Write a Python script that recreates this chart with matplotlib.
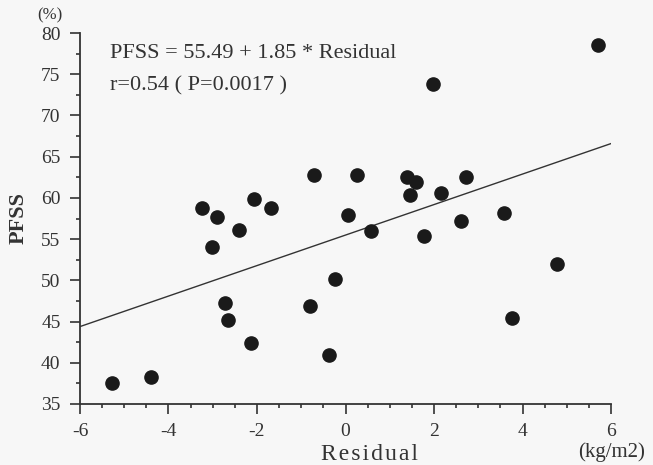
"""
    PFSS 与 Residual 散点图 + 回归直线
"""

import matplotlib
matplotlib.use("Agg")
import matplotlib.pyplot as plt
from matplotlib.ticker import MultipleLocator

# 数据
residual = [-5.28, -4.39, -3.25, -3.02, -2.90, -2.73, -2.66, -2.41, -2.07, -2.13,
            -1.68, -0.80, -0.71, -0.37, -0.23, 0.06, 0.25, 0.57, 1.38, 1.46,
            1.59, 1.78, 1.98, 2.15, 2.60, 2.72, 3.58, 3.77, 4.78, 5.70]
pfss = [37.6, 38.3, 58.8, 54.0, 57.7, 47.3, 45.2, 56.1, 59.9, 42.4,
        58.8, 46.9, 62.8, 40.9, 50.2, 57.9, 62.8, 56.0, 62.5, 60.4,
        61.9, 55.4, 73.8, 60.6, 57.2, 62.5, 58.2, 45.4, 52.0, 78.6]
intercept = 55.49
slope = 1.85
line_x = [-6, 6]

plt.rcParams['font.family'] = ['Liberation Serif', 'DejaVu Serif']
plt.rcParams['axes.unicode_minus'] = False
text_color = '#333333'

fig = plt.figure(figsize=(6.53, 4.65), dpi=100)
fig.patch.set_facecolor('#f7f7f7')
ax = fig.add_axes([0.1225, 0.1312, 0.8132, 0.7978])
ax.set_facecolor('#f7f7f7')

ax.plot(residual, pfss, 'o', color='#1a1a1a', markersize=9.5, zorder=3)
ax.plot(line_x, [intercept + slope * x for x in line_x], color='#333333', lw=1.0)

ax.set_xlim(-6, 6)
ax.set_ylim(35, 80)
ax.xaxis.set_major_locator(MultipleLocator(2))
ax.xaxis.set_minor_locator(MultipleLocator(0.5))
ax.yaxis.set_major_locator(MultipleLocator(5))
ax.yaxis.set_minor_locator(MultipleLocator(2.5))
ax.tick_params(which='major', direction='out', length=6, width=1.2, labelsize=14,
               colors='#333333', pad=6)
ax.tick_params(which='minor', direction='out', length=3, width=1.2, colors='#333333')
ax.tick_params(axis='x', which='major', length=7, pad=7)
ax.tick_params(axis='y', which='major', length=7, pad=7)

for side in ['top', 'right']:
    ax.spines[side].set_visible(False)
for side in ['left', 'bottom']:
    ax.spines[side].set_linewidth(1.3)
    ax.spines[side].set_color('#333333')

# 注释
ax.text(-5.32, 77.5, 'PFSS = 55.49 + 1.85 * Residual', fontsize=16, color=text_color,
        va='center', ha='left')
ax.text(-5.32, 73.6, 'r=0.54 ( P=0.0017 )', fontsize=16, color=text_color,
        va='center', ha='left')

# 轴标签
fig.text(0.566, 0.022, '\u200a'.join('Residual'), fontsize=17, color=text_color,
         va='center', ha='center')
fig.text(0.028, 0.531, 'PFSS', rotation=90, fontsize=16, fontweight='bold',
         color=text_color, va='center', ha='center')
fig.text(0.077, 0.966, '(%)', fontsize=12, color=text_color, va='center', ha='center')
fig.text(0.937, 0.028, '(kg/m2)', fontsize=15, color=text_color, va='center', ha='center')

fig.savefig('out.png', dpi=100, facecolor=fig.get_facecolor())
